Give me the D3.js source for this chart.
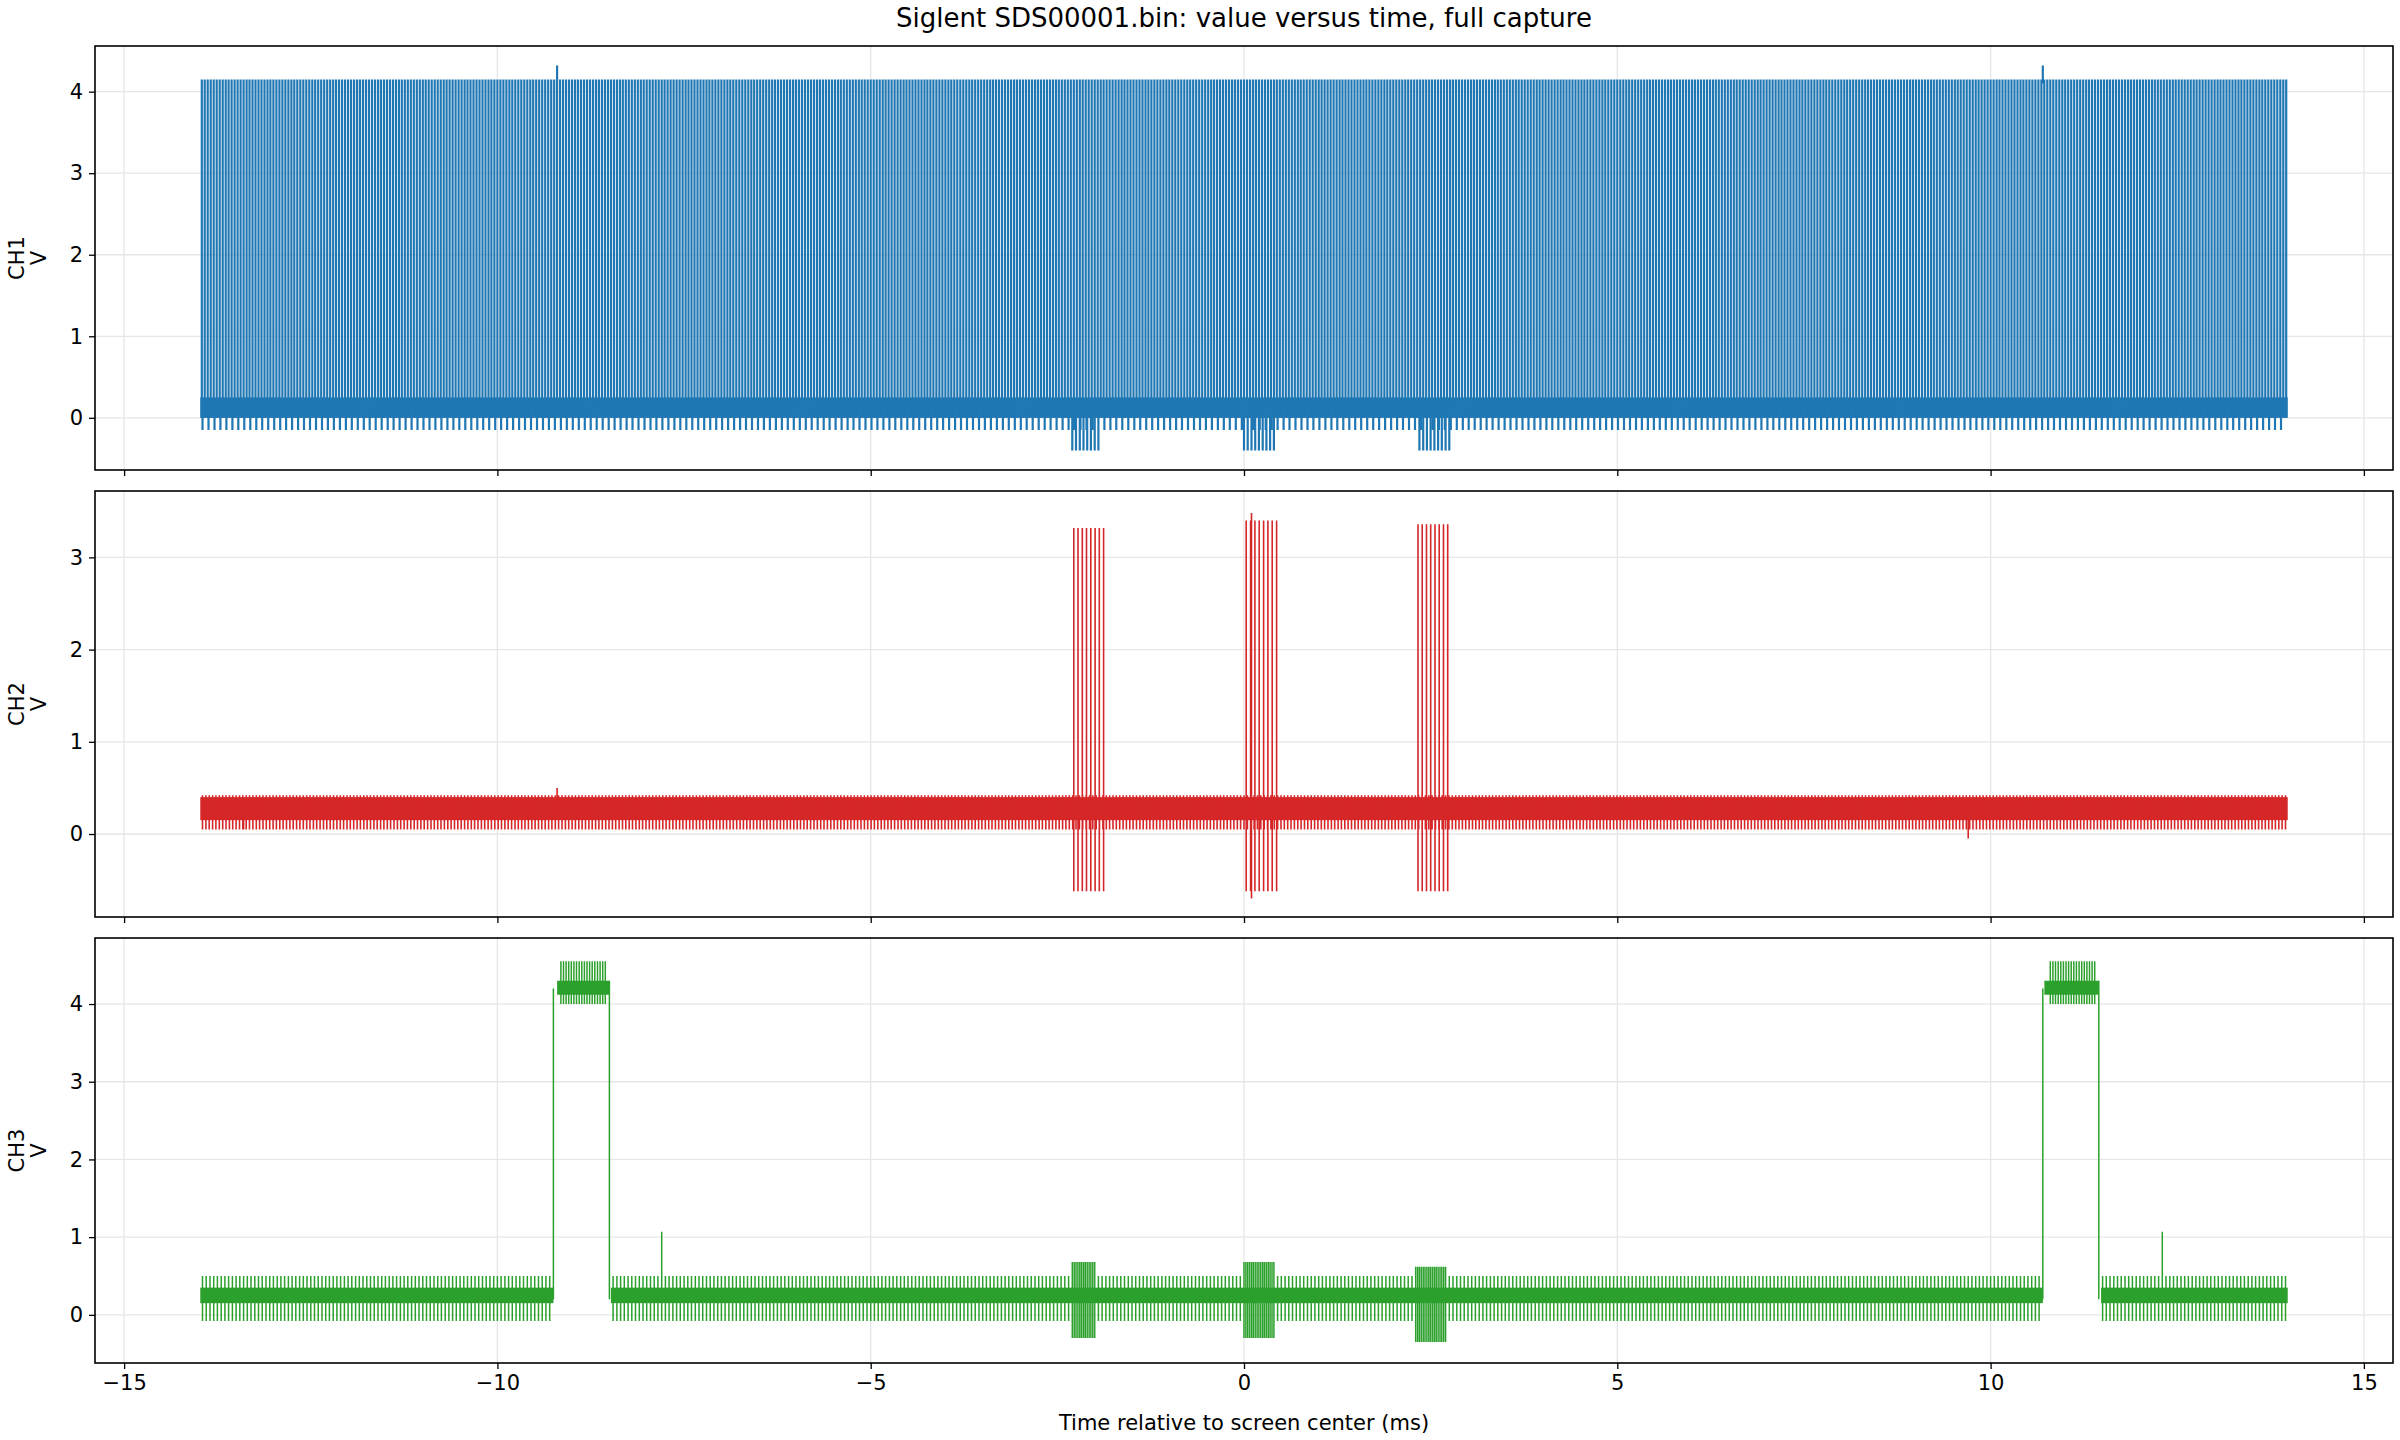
<!DOCTYPE html>
<html>
<head>
<meta charset="utf-8">
<script src="https://cdn.jsdelivr.net/npm/d3@7"></script>
<style>
  body { margin: 0; background: #fff; }
  text { font-family: "DejaVu Sans", sans-serif; fill: #000; }
  .grid line { stroke: #e6e6e6; stroke-width: 1.3; }
  .axis path, .axis line { stroke: #000; stroke-width: 1.3; }
</style>
</head>
<body>
<div id="chart"></div>
<script>
/* Siglent capture: three channels, value vs time */

const width = 2400, height = 1440;
const left = 95, right = 2393;

// channel names, colours and y tick labels
const channels = ["CH1", "CH2", "CH3"];
const colors = ["#1f77b4", "#d62728", "#2ca02c"];
const yTicks = [[0, 1, 2, 3, 4], [0, 1, 2, 3], [0, 1, 2, 3, 4]];
const yDomains = [[-0.64, 4.56], [-0.9, 3.72], [-0.62, 4.85]];
const panelTops = [46, 491, 938];
const panelBottoms = [470, 917, 1363];
const xTicks = [-15, -10, -5, 0, 5, 10, 15];
const strokeWidths = [2.2, 1.6, 1.5];

// filled bands where the trace is too dense: [t0, t1, lo, hi]
const ch1Bands = [[-13.98, 13.98, 0.0, 0.25]];
const ch2Bands = [[-13.98, 13.98, 0.15, 0.4]];
const ch3Bands = [[-13.98, -9.25, 0.15, 0.35], [-9.2, -8.5, 4.12, 4.3], [-8.48, 10.7, 0.15, 0.35],
                  [10.72, 11.45, 4.12, 4.3], [11.48, 13.98, 0.15, 0.35]];

// repeated pulse trains: [t0, t1, period, lo, hi]
const ch1Trains = [[-13.96, 13.96, 0.04, 0.0, 4.15], [-13.95, 13.95, 0.08, -0.15, 0.1],
                   [-2.3, -1.95, 0.05, -0.4, 0.1], [0.0, 0.4, 0.05, -0.4, 0.1], [2.35, 2.75, 0.05, -0.4, 0.1]];
const ch2Trains = [[-13.95, 13.95, 0.045, 0.05, 0.42],
                   [-2.28, -1.88, 0.057, -0.62, 3.32], [0.03, 0.44, 0.058, -0.62, 3.4], [2.33, 2.73, 0.057, -0.62, 3.36]];
const ch3Trains = [[-13.95, -9.3, 0.05, -0.08, 0.5], [-8.45, 10.65, 0.05, -0.08, 0.5], [11.5, 13.95, 0.05, -0.08, 0.5],
                   [-9.15, -8.55, 0.035, 4.0, 4.55], [10.8, 11.4, 0.035, 4.0, 4.55],
                   [-2.3, -2.0, 0.025, -0.3, 0.68], [0.0, 0.4, 0.025, -0.3, 0.68], [2.3, 2.7, 0.025, -0.35, 0.62]];

// single spikes and edges: [t, lo, hi]
const ch1Spikes = [[-9.2, 4.1, 4.32], [10.7, 4.1, 4.32]];
const ch2Spikes = [[-9.2, 0.3, 0.5], [9.7, -0.05, 0.3], [-13.4, 0.05, 0.3], [0.1, -0.7, 3.48]];
const ch3Spikes = [[-9.25, 0.2, 4.2], [-8.5, 0.2, 4.3], [10.7, 0.2, 4.2], [11.45, 0.2, 4.3],
                   [-7.8, 0.2, 1.07], [12.3, 0.2, 1.07]];

const bands = [ch1Bands, ch2Bands, ch3Bands];
const trains = [ch1Trains, ch2Trains, ch3Trains];
const spikes = [ch1Spikes, ch2Spikes, ch3Spikes];

const svg = d3.select("#chart").append("svg")
    .attr("width", width).attr("height", height)
    .attr("viewBox", [0, 0, width, height]);

const x = d3.scaleLinear().domain([-15.39, 15.39]).range([left, right]);

svg.append("text")
    .attr("x", (left + right) / 2).attr("y", 27)
    .attr("text-anchor", "middle").attr("font-size", 26)
    .text("Siglent SDS00001.bin: value versus time, full capture");

channels.forEach((ch, i) => {
  const top = panelTops[i], bottom = panelBottoms[i];
  const y = d3.scaleLinear().domain(yDomains[i]).range([bottom, top]);
  const g = svg.append("g");

  g.append("clipPath").attr("id", "clip" + i)
    .append("rect").attr("x", left).attr("y", top).attr("width", right - left).attr("height", bottom - top);

  // gridlines
  const grid = g.append("g").attr("class", "grid");
  grid.selectAll(".vx").data(xTicks).join("line")
      .attr("x1", d => x(d)).attr("x2", d => x(d)).attr("y1", top).attr("y2", bottom);
  grid.selectAll(".hy").data(yTicks[i]).join("line")
      .attr("x1", left).attr("x2", right).attr("y1", d => y(d)).attr("y2", d => y(d));

  const plot = g.append("g").attr("clip-path", `url(#clip${i})`);

  plot.selectAll("rect.band").data(bands[i]).join("rect")
      .attr("class", "band")
      .attr("x", d => x(d[0])).attr("width", d => x(d[1]) - x(d[0]))
      .attr("y", d => y(d[3])).attr("height", d => y(d[2]) - y(d[3]))
      .attr("fill", colors[i]);

  // build vertical strokes for pulse trains and spikes
  let segs = [];
  for (const [t0, t1, p, lo, hi] of trains[i]) {
    for (let t = t0; t <= t1 + 1e-9; t += p) segs.push([t, lo, hi]);
  }
  segs = segs.concat(spikes[i]);
  const d = segs.map(s => `M${x(s[0]).toFixed(1)},${y(s[1]).toFixed(1)}V${y(s[2]).toFixed(1)}`).join("");
  plot.append("path").attr("d", d).attr("fill", "none")
      .attr("stroke", colors[i]).attr("stroke-width", strokeWidths[i]);

  // axes
  g.append("g").attr("class", "axis")
      .attr("transform", `translate(${left},0)`)
      .call(d3.axisLeft(y).tickValues(yTicks[i]).tickFormat(d3.format("d")).tickSize(6).tickPadding(6))
      .call(a => a.select(".domain").remove())
      .selectAll("text").attr("font-size", 21);
  const xa = g.append("g").attr("class", "axis")
      .attr("transform", `translate(0,${bottom})`)
      .call(d3.axisBottom(x).tickValues(xTicks).tickFormat(d3.format("d")).tickSize(6).tickPadding(6))
      .call(a => a.select(".domain").remove());
  xa.selectAll("text").attr("font-size", 21);
  if (i < 2) xa.selectAll("text").remove();

  g.append("rect").attr("x", left).attr("y", top)
      .attr("width", right - left).attr("height", bottom - top)
      .attr("fill", "none").attr("stroke", "#000").attr("stroke-width", 1.6);

  const ylab = g.append("text")
      .attr("transform", `translate(0,${(top + bottom) / 2}) rotate(-90)`)
      .attr("text-anchor", "middle").attr("font-size", 21);
  ylab.append("tspan").attr("x", 0).attr("y", 24).text(ch);
  ylab.append("tspan").attr("x", 0).attr("y", 46).text("V");
});

svg.append("text")
    .attr("x", (left + right) / 2).attr("y", 1430)
    .attr("text-anchor", "middle").attr("font-size", 21)
    .text("Time relative to screen center (ms)");
</script>
</body>
</html>
